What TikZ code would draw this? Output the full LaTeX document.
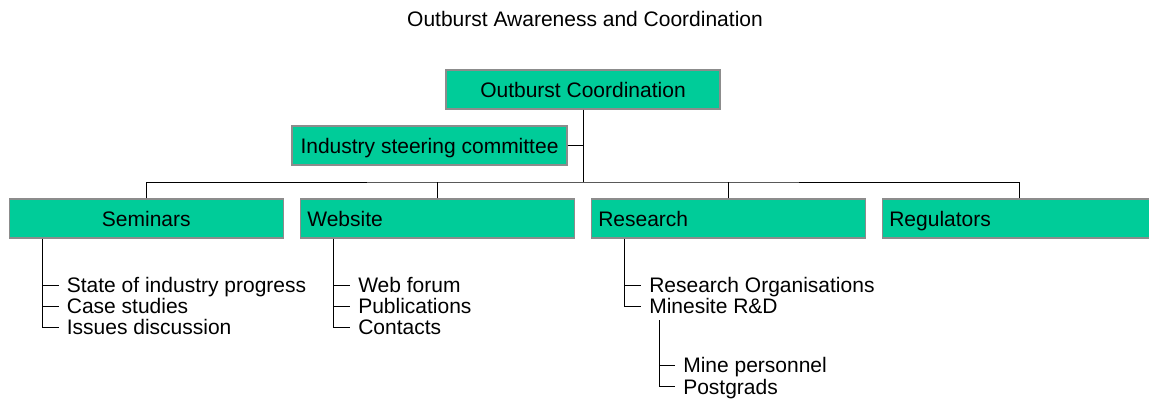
\documentclass[tikz,border=0pt]{standalone}
\usepackage{fontspec}
\setmainfont{Liberation Sans}
\usetikzlibrary{positioning}
\definecolor{orggreen}{HTML}{00CC99}
\definecolor{orgedge}{HTML}{8C8C8C}

\begin{document}
\begin{tikzpicture}[
  x=0.75pt, y=-0.75pt,
  every node/.style={font=\fontsize{15.75}{16}\selectfont, text height=11.3pt, text depth=0pt},
  box/.style={draw=orgedge, line width=0.9pt, fill=orggreen, minimum width=205.5pt,
              minimum height=29.25pt, inner xsep=5.25pt},
  cbox/.style={box},
  lbox/.style={box, text width=195pt, align=left},
  item/.style={anchor=west, inner xsep=6pt, inner ysep=0pt},
  tree/.style={line width=0.75pt}
]
  \clip (0,0) rectangle (1149,403);
  \node (title) at (585,19) {Outburst Awareness and Coordination};

  \node[cbox] (top)   at (583,89.5)   {Outburst Coordination};
  \node[cbox, minimum width=206.25pt] (steer) at (429.5,145.5) {Industry steering committee};

  \node[cbox] (sem) at (146.3,218.5) {Seminars};
  \node[lbox, right=11.85pt of sem] (web) {Website};
  \node[lbox, right=11.85pt of web] (res) {Research};
  \node[lbox, right=11.85pt of res] (reg) {Regulators};

  \coordinate (bar) at (583,182);
  \draw[tree] (top.south) -- (bar);
  \draw[tree] (steer.east) -- (steer.east -| top.south);
  \draw[tree] (sem.north) |- (bar) -| (reg.north);
  \draw[tree] (web.north) -- (web.north |- bar);
  \draw[tree] (res.north) -- (res.north |- bar);

  % seminars
  \node[item] (s1) at (58.6,285) {State of industry progress};
  \node[item] (s2) at (58.6,306) {Case studies};
  \node[item] (s3) at (58.6,327) {Issues discussion};
  \coordinate (semx) at ([xshift=25pt]sem.south west);
  \draw[tree] (semx) |- (s3.west);
  \foreach \i in {1,2} \draw[tree] (semx |- s\i.west) -- (s\i.west);

  % website
  \node[item] (w1) at (350,285) {Web forum};
  \node[item] (w2) at (350,306) {Publications};
  \node[item] (w3) at (350,327) {Contacts};
  \coordinate (webx) at ([xshift=25pt]web.south west);
  \draw[tree] (webx) |- (w3.west);
  \foreach \i in {1,2} \draw[tree] (webx |- w\i.west) -- (w\i.west);

  % research
  \node[item] (r1) at (641,285) {Research Organisations};
  \node[item] (r2) at (641,306) {Minesite R\&D};
  \coordinate (resx) at ([xshift=25pt]res.south west);
  \draw[tree] (resx) |- (r2.west);
  \draw[tree] (resx |- r1.west) -- (r1.west);

  \node[item] (m1) at (675,365.3) {Mine personnel};
  \node[item] (m2) at (675,386.7) {Postgrads};
  \coordinate (rdx) at (659,320);
  \draw[tree] (rdx) |- (m2.west);
  \draw[tree] (rdx |- m1.west) -- (m1.west);
\end{tikzpicture}
\end{document}
